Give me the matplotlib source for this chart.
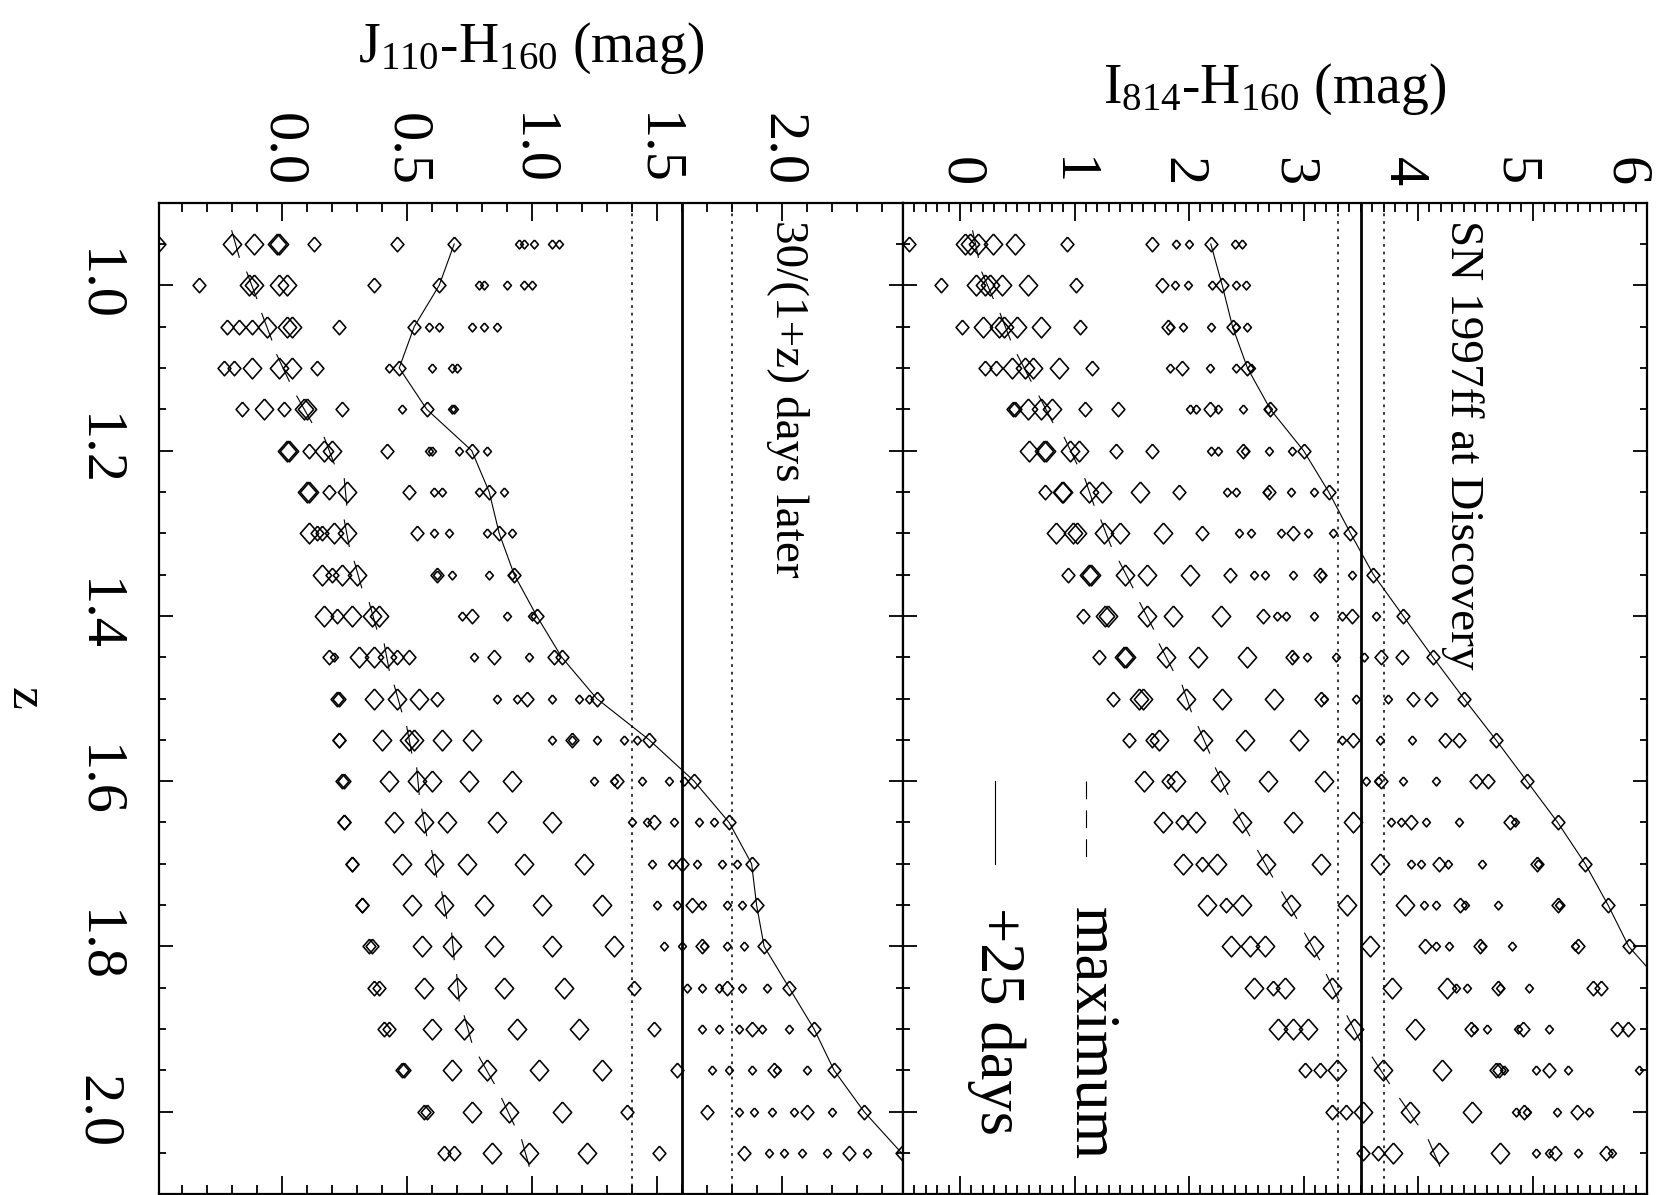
import matplotlib
matplotlib.use('Agg')
import matplotlib.pyplot as plt
from matplotlib.ticker import MultipleLocator
from matplotlib.transforms import ScaledTranslation

plt.rcParams['font.family'] = ['Liberation Serif', 'DejaVu Serif']
plt.rcParams['mathtext.fontset'] = 'custom'
plt.rcParams['mathtext.rm'] = 'Liberation Serif'
plt.rcParams['mathtext.it'] = 'Liberation Serif:italic'

# ---------------- data ----------------
z_rows = [0.95, 1.00, 1.05, 1.10, 1.15, 1.20, 1.25, 1.30, 1.35, 1.40, 1.45, 1.50,
          1.55, 1.60, 1.65, 1.70, 1.75, 1.80, 1.85, 1.90, 1.95, 2.00, 2.05]

# SN 1997ff tracks
jh_sn = [0.69, 0.63, 0.53, 0.47, 0.58, 0.76, 0.83, 0.87, 0.93, 1.02, 1.12, 1.26,
         1.47, 1.65, 1.79, 1.88, 1.90, 1.93, 2.03, 2.13, 2.21, 2.33, 2.48]
ih_sn = [2.19, 2.29, 2.38, 2.51, 2.71, 3.00, 3.22, 3.41, 3.61, 3.87, 4.13, 4.40,
         4.68, 4.95, 5.22, 5.46, 5.66, 5.84, 6.16]

# J110-H160 model colours, per redshift row
jh_large = [[-0.20, -0.11, -0.02, -0.01], [-0.13, -0.11, -0.01, 0.02], [-0.06, 0.02, 0.04],
            [-0.12, -0.01, 0.04], [-0.07, 0.09, 0.10], [0.02, 0.03, 0.17, 0.20],
            [0.10, 0.11, 0.26], [0.11, 0.21, 0.26], [0.16, 0.24, 0.30],
            [0.17, 0.28, 0.36, 0.39], [0.31, 0.37, 0.42], [0.37, 0.46, 0.55],
            [0.40, 0.51, 0.53, 0.64, 0.76], [0.43, 0.54, 0.60, 0.75, 0.92],
            [0.45, 0.57, 0.66, 0.86, 1.08], [0.48, 0.61, 0.74, 0.97, 1.21],
            [0.52, 0.65, 0.81, 1.04, 1.28], [0.56, 0.68, 0.85, 1.08, 1.33],
            [0.57, 0.70, 0.89, 1.13], [0.60, 0.73, 0.94, 1.19], [0.68, 0.82, 1.03, 1.28],
            [0.76, 0.91, 1.12], [0.84, 0.99, 1.22]]
jh_medium = [[-0.49, 0.13, 0.46], [-0.33, 0.37], [-0.22, -0.17, -0.12, 0.23],
             [-0.23, -0.19, 0.14], [-0.16, 0.01, 0.24], [0.11, 0.42], [0.19, 0.51],
             [0.14, 0.16, 0.54], [0.20, 0.62], [0.22, 0.76], [0.19, 0.46, 0.51, 0.85, 1.09],
             [0.22, 0.23, 0.62, 0.98], [0.23, 0.23, 1.16], [0.24, 0.25, 1.34],
             [0.25, 0.25, 1.49], [0.28, 0.28, 1.60], [0.32, 0.32, 1.64], [0.35, 0.36, 1.68],
             [0.37, 0.39, 1.41, 1.78], [0.41, 0.43, 1.49, 1.88], [0.48, 0.49, 1.58, 1.97],
             [0.57, 0.58, 1.38, 1.70, 2.10], [0.65, 0.69, 1.51, 1.85, 2.27]]
jh_small = [[0.95, 0.97, 1.01, 1.08, 1.11], [0.79, 0.81, 0.90, 0.97, 1.00],
            [0.59, 0.63, 0.76, 0.81, 0.86], [0.43, 0.60, 0.68, 0.70], [0.48, 0.68, 0.69],
            [0.59, 0.60, 0.71, 0.82], [0.61, 0.64, 0.79, 0.89], [0.61, 0.67, 0.82, 0.92],
            [0.62, 0.68, 0.83, 0.92], [0.72, 0.90, 1.00], [0.21, 0.77, 0.99],
            [0.86, 0.94, 1.08, 1.19, 1.23], [1.08, 1.16, 1.26, 1.37, 1.42],
            [1.25, 1.33, 1.44, 1.55, 1.61], [1.40, 1.46, 1.57, 1.67, 1.73],
            [1.48, 1.56, 1.66, 1.76, 1.82], [1.50, 1.58, 1.68, 1.78, 1.84],
            [1.53, 1.60, 1.69, 1.78, 1.85], [1.62, 1.68, 1.75, 1.84, 1.94],
            [1.68, 1.75, 1.83, 1.92, 2.03], [1.72, 1.79, 1.88, 1.98, 2.10],
            [1.83, 1.89, 1.96, 2.05, 2.20], [1.95, 2.01, 2.08, 2.18, 2.34]]
jh_seg = [(-0.20, -0.17), (-0.14, -0.10), (-0.08, -0.04), (-0.02, 0.03), (0.06, 0.12),
          (0.17, 0.21), (0.25, 0.26), (0.25, 0.27), (0.29, 0.32), (0.35, 0.38),
          (0.41, 0.43), (0.45, 0.48), (0.50, 0.52), (0.54, 0.55), (0.56, 0.58),
          (0.60, 0.62), (0.64, 0.66), (0.68, 0.69), (0.70, 0.71), (0.73, 0.76),
          (0.79, 0.85), (0.88, 0.93), (0.96, 0.99)]

# I814-H160 model colours, per redshift row
ih_large = [[0.04, 0.09, 0.16, 0.29, 0.48], [0.14, 0.22, 0.26, 0.37, 0.59],
            [0.20, 0.34, 0.38, 0.50, 0.71], [0.45, 0.57, 0.64, 0.86], [0.59, 0.71, 0.80],
            [0.60, 0.73, 0.75, 0.96, 1.04], [0.89, 0.90, 1.13, 1.24, 1.57],
            [0.84, 0.99, 1.02, 1.26, 1.40, 1.77], [1.13, 1.14, 1.44, 1.63, 2.01],
            [1.27, 1.29, 1.63, 1.86, 2.28], [1.43, 1.45, 1.80, 2.08, 2.51],
            [1.56, 1.60, 1.97, 2.29, 2.74], [1.74, 2.12, 2.49, 2.96],
            [1.61, 1.89, 2.27, 2.69, 3.18], [1.77, 2.06, 2.46, 2.91, 3.43],
            [1.95, 2.24, 2.67, 3.15, 3.67], [2.16, 2.46, 2.89, 3.38, 3.89],
            [2.37, 2.53, 2.66, 3.09, 3.58], [2.57, 2.84, 3.25, 3.77, 4.25],
            [2.78, 2.91, 3.04, 3.44, 3.97], [3.29, 3.69, 4.21], [3.52, 3.93, 4.47],
            [3.78, 4.18, 4.72]]
ih_medium = [[-0.45, 0.93, 1.68], [-0.17, 1.01, 1.76], [0.02, 1.05, 1.82],
             [0.22, 0.31, 1.15, 1.94], [0.46, 0.48, 1.09, 1.38, 2.18], [1.36, 1.68, 2.47],
             [0.74, 1.91, 2.70], [2.11, 2.91], [0.94, 2.36, 3.14], [1.07, 2.65, 3.42],
             [1.21, 2.90, 3.68, 3.86], [1.34, 3.15, 3.96, 4.11], [1.48, 1.68, 3.43, 4.24, 4.36],
             [1.82, 3.68, 4.51, 4.61], [1.94, 3.94, 4.80], [2.11, 4.18, 5.04],
             [2.32, 4.37, 5.22], [4.06, 4.54, 5.40], [2.73, 4.70, 5.53, 5.60],
             [4.46, 4.92, 5.74, 5.83], [3.01, 3.14, 4.68, 4.71, 5.14],
             [3.25, 3.37, 4.93, 5.39], [3.52, 3.65, 5.20, 5.64]]
ih_small = [[1.89, 2.00, 2.40, 2.46], [1.88, 1.99, 2.20, 2.41, 2.50],
            [1.83, 1.95, 2.19, 2.41, 2.51], [1.83, 2.18, 2.41, 2.54],
            [2.01, 2.06, 2.25, 2.47, 2.69], [2.19, 2.25, 2.49, 2.70, 2.90],
            [2.33, 2.41, 2.68, 2.89, 3.09], [2.44, 2.54, 2.80, 3.04, 3.26],
            [2.57, 2.66, 2.91, 3.16, 3.42], [2.77, 2.85, 3.09, 3.34, 3.63],
            [2.92, 3.03, 3.28, 3.53], [3.18, 3.46, 3.74], [3.34, 3.67, 3.95],
            [3.55, 3.65, 3.87, 4.16], [3.76, 3.85, 4.07, 4.36, 4.85],
            [3.94, 4.03, 4.26, 4.56, 5.05], [4.05, 4.16, 4.41, 4.70, 5.23],
            [4.16, 4.27, 4.56, 4.82, 5.37], [4.33, 4.43, 4.72, 4.97],
            [4.49, 4.60, 4.87, 5.14], [4.75, 5.03, 5.31, 5.93], [4.86, 4.95, 5.21, 5.49],
            [5.03, 5.14, 5.40, 5.69]]
ih_seg = [(0.11, 0.16), (0.19, 0.29), (0.35, 0.44), (0.50, 0.62), (0.69, 0.81),
          (0.91, 1.02), (1.09, 1.17), (1.23, 1.32), (1.39, 1.51), (1.57, 1.69),
          (1.74, 1.86), (1.94, 2.02), (2.08, 2.18), (2.23, 2.34), (2.40, 2.53),
          (2.60, 2.73), (2.81, 2.94), (3.01, 3.14), (3.20, 3.31), (3.38, 3.50),
          (3.60, 3.75), (3.84, 4.00), (4.09, 4.19)]

jh_limit, jh_band = 1.6, 0.2
ih_limit, ih_band = 3.5, 0.2

jh_ticks = [0.0, 0.5, 1.0, 1.5, 2.0]
jh_ticklabels = ['0.0', '0.5', '1.0', '1.5', '2.0']
ih_ticks = [0, 1, 2, 3, 4, 5, 6]
ih_ticklabels = ['0', '1', '2', '3', '4', '5', '6']
z_ticks = [1.0, 1.2, 1.4, 1.6, 1.8, 2.0]
z_ticklabels = ['1.0', '1.2', '1.4', '1.6', '1.8', '2.0']

# ---------------- figure ----------------
W, H = 1659, 1195
fig = plt.figure(figsize=(W / 100, H / 100), dpi=100)
top_px, bot_px = 202.7, 1194.3
x0, x1, x2 = 159.3, 902.8, 1647.0
ax1 = fig.add_axes([x0 / W, (H - bot_px) / H, (x1 - x0) / W, (bot_px - top_px) / H])
ax2 = fig.add_axes([x1 / W, (H - bot_px) / H, (x2 - x1) / W, (bot_px - top_px) / H])

diamond = [(0, 1), (0.88, 0), (0, -1), (-0.88, 0), (0, 1)]
MS_L, MS_M, MS_S = 15.0, 10.5, 6.4
MEW = 1.15
dz = 0.016


def draw_panel(ax, large, medium, small, seg, sn):
    for vals, ms in ((large, MS_L), (medium, MS_M), (small, MS_S)):
        xs, zs = [], []
        for z, row in zip(z_rows, vals):
            xs.extend(row)
            zs.extend([z] * len(row))
        ax.plot(xs, zs, ls='none', marker=diamond, ms=ms, mfc='none',
                mec='k', mew=MEW)
    for z, (a, b) in zip(z_rows, seg):
        ax.plot([a, b], [z - dz, z + dz], color='k', lw=0.8)
    ax.plot(sn, z_rows[:len(sn)], color='k', lw=0.8, marker=diamond, ms=MS_M,
            mfc='none', mec='k', mew=MEW)


draw_panel(ax1, jh_large, jh_medium, jh_small, jh_seg, jh_sn)
draw_panel(ax2, ih_large, ih_medium, ih_small, ih_seg, ih_sn)

dot = (0, (1.8, 3.2))
for ax, c, b in ((ax1, jh_limit, jh_band), (ax2, ih_limit, ih_band)):
    ax.axvline(c, color='k', lw=2.0)
    ax.axvline(c - b, color='k', lw=1.1, ls=dot)
    ax.axvline(c + b, color='k', lw=1.1, ls=dot)

ax1.set_xlim(-0.49, 2.485)
ax2.set_xlim(-0.5, 6.0)
for ax in (ax1, ax2):
    ax.set_ylim(2.1, 0.9)
    for s in ax.spines.values():
        s.set_linewidth(1.6)
    ax.yaxis.set_minor_locator(MultipleLocator(0.05))
    ax.xaxis.set_minor_locator(MultipleLocator(0.1))
    ax.tick_params(axis='both', which='both', direction='in', top=True, bottom=True,
                   left=True, right=True, width=1.3, labelsize=42)
    ax.tick_params(axis='x', which='major', length=13.3, pad=12,
                   labeltop=True, labelbottom=False)
    ax.tick_params(axis='x', which='minor', length=6.5)
    ax.tick_params(axis='y', which='major', length=10, pad=26)
    ax.tick_params(axis='y', which='minor', length=5)
    ax.xaxis.set_label_position('top')

ax1.set_xticks(jh_ticks)
ax1.set_xticklabels(jh_ticklabels, rotation=-90)
ax2.set_xticks(ih_ticks)
ax2.set_xticklabels(ih_ticklabels, rotation=-90)
ax1.set_yticks(z_ticks)
ax1.set_yticklabels(z_ticklabels, rotation=-90, va='center')
ax2.set_yticks(z_ticks)
ax2.tick_params(axis='y', labelleft=False)

# the I-H tick labels sit slightly left of their ticks in the reference
for i, lab in enumerate(ax2.get_xticklabels()):
    lab.set_transform(lab.get_transform() +
                      ScaledTranslation(-3.7 * i / 100, 0, fig.dpi_scale_trans))

ax1.set_xlabel(r'J$_{\mathrm{110}}$-H$_{\mathrm{160}}$ (mag)', fontsize=40)
ax1.xaxis.set_label_coords(0.5, 1.156)
ax1.xaxis.label.set_va('center')
ax2.set_xlabel(r'I$_{\mathrm{814}}$-H$_{\mathrm{160}}$ (mag)', fontsize=40)
ax2.xaxis.set_label_coords(0.5, 1.114)
ax2.xaxis.label.set_va('center')
ax1.set_ylabel('z', rotation=-90, fontsize=37)
ax1.yaxis.set_label_coords((12 - x0) / (x1 - x0), 0.5)
ax1.yaxis.label.set_rotation_mode('anchor')
ax1.yaxis.label.set_va('baseline')
ax1.yaxis.label.set_ha('center')

txt = dict(rotation=-90, rotation_mode='anchor', ha='left', va='baseline')
ax2.text(4.285, 0.921, 'SN 1997ff at Discovery', fontsize=34, **txt)
ax1.text(1.979, 0.921, '30/(1+z) days later', fontsize=34, **txt)

# legend (drawn in rotated orientation)
ax2.plot([1.10, 1.10], [1.60, 1.70], color='k', lw=0.8, ls=(0, (16, 10)))
ax2.plot([0.306, 0.306], [1.60, 1.70], color='k', lw=0.8)
ax2.text(1.01, 1.752, 'maximum', fontsize=45, **txt)
ax2.text(0.18, 1.752, '+25 days', fontsize=45, **txt)

fig.savefig('out.png', dpi=100)
